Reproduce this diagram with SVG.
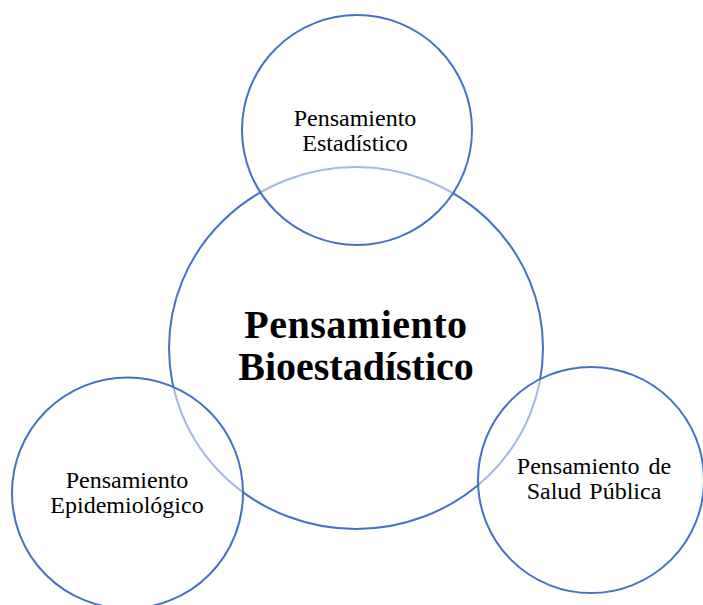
<svg xmlns="http://www.w3.org/2000/svg" width="703" height="605" viewBox="0 0 703 605">
<style>
.c{stroke:#4472C4;stroke-width:2}
.big{fill:none}
.small{fill:#ffffff;fill-opacity:0.5}
.t{font-family:"Liberation Serif","Times New Roman",serif;font-size:24px;fill:#000;text-anchor:middle}
.b{font-family:"Liberation Serif","Times New Roman",serif;font-size:40px;font-weight:bold;fill:#000;text-anchor:middle}
</style>
<rect width="703" height="605" fill="#ffffff"/>
<g id="bioestadistico">
<ellipse class="c big" cx="356" cy="348" rx="187" ry="181"/>
</g>
<g id="estadistico">
<circle class="c small" cx="357" cy="130" r="115"/>
<text class="t" x="355" y="126">Pensamiento</text>
<text class="t" x="355" y="151">Estadístico</text>
</g>
<g id="epidemiologico">
<circle class="c small" cx="127.5" cy="493" r="115.5"/>
<text class="t" x="127" y="488">Pensamiento</text>
<text class="t" x="127" y="513">Epidemiológico</text>
</g>
<g id="saludpublica">
<circle class="c small" cx="591" cy="480" r="113"/>
<text class="t" x="594" y="474" word-spacing="3">Pensamiento de</text>
<text class="t" x="594" y="499" word-spacing="2">Salud Pública</text>
</g>
<g id="bioestadistico-label">
<text class="b" x="356" y="338" letter-spacing="0.5">Pensamiento</text>
<text class="b" x="356" y="380">Bioestadístico</text>
</g>
<g id="connectors"></g>
</svg>
